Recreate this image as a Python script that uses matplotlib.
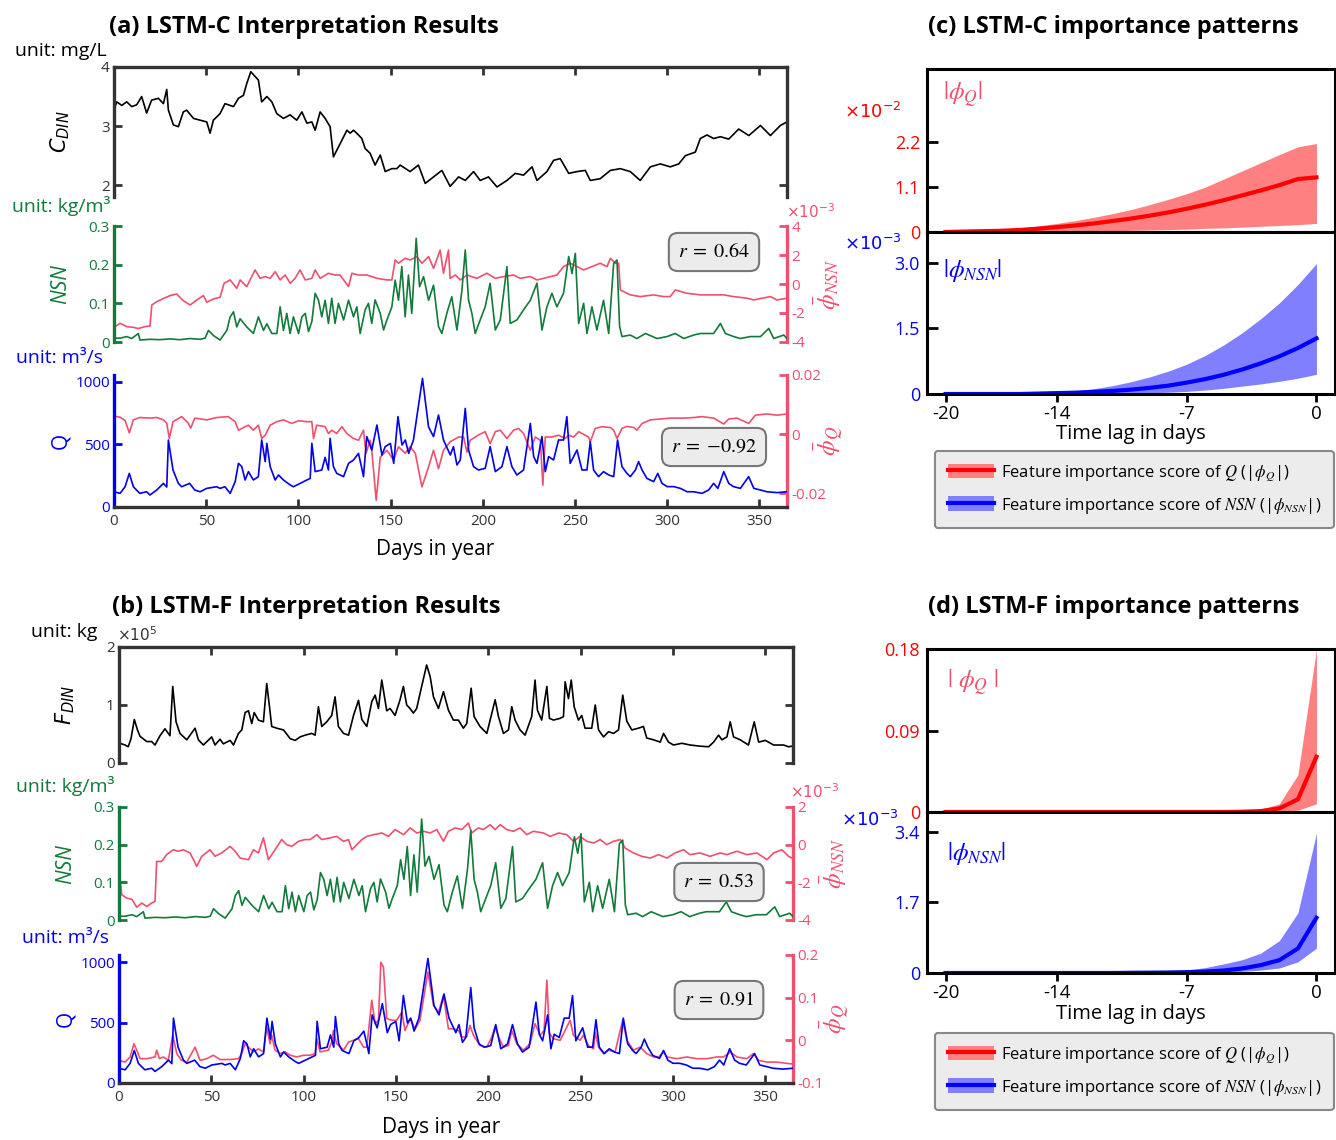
import numpy as np
import matplotlib.pyplot as plt
from matplotlib.patches import Patch
from matplotlib.lines import Line2D

plt.rcParams['font.family'] = ['Open Sans', 'DejaVu Sans']
plt.rcParams['mathtext.fontset'] = 'dejavusans'
plt.rcParams['axes.unicode_minus'] = False

W, H = 1336, 1140
PINK = '#f0506e'
GREEN = '#127a3a'
BLUE = '#0000ee'
DARK = '#333333'

# ---------------- time series (day, value) ----------------
c_din_pts = [(0, 3.27), (1.5, 3.41), (4.2, 3.35), (6.9, 3.41), (9.6, 3.33), (12.3, 3.36), (15, 3.50),
             (17.7, 3.22), (20.4, 3.44), (24.1, 3.47), (26.8, 3.38), (28.6, 3.62), (29.5, 3.27),
             (32.2, 3.02), (34.9, 2.99), (37.6, 3.24), (39.4, 3.27), (43.1, 3.13), (46.7, 3.10),
             (50.3, 3.07), (52.1, 2.88), (53.9, 3.10), (57.5, 3.21), (60.2, 3.38), (64.8, 3.33),
             (67.5, 3.47), (70.2, 3.52), (72, 3.72), (74.2, 3.92), (76.5, 3.84), (78.3, 3.78),
             (80.1, 3.41), (82.9, 3.50), (85.6, 3.41), (88.3, 3.21), (91.9, 3.13), (95.5, 3.19),
             (99.1, 3.10), (101.9, 3.24), (104.6, 3.05), (107.3, 3.07), (109.1, 2.93), (111.8, 3.24),
             (114.5, 3.13), (117.2, 2.99), (119, 2.48), (120.8, 2.59), (123.6, 2.76), (126.3, 2.93),
             (128.1, 2.88), (129.9, 2.93), (132.6, 2.85), (134.4, 2.79), (136.2, 2.62), (138.9, 2.54),
             (141.6, 2.34), (144.4, 2.51), (147.1, 2.23), (150.7, 2.28), (153.4, 2.28), (155.2, 2.34),
             (160.6, 2.23), (165.1, 2.34), (168.8, 2.03), (173.3, 2.14), (177.8, 2.25), (182.3, 1.98),
             (186.9, 2.14), (190.5, 2.08), (195, 2.23), (198.6, 2.08), (203.1, 2.14), (207.7, 1.97),
             (213.1, 2.08), (217.6, 2.20), (222.1, 2.17), (226.7, 2.31), (229.4, 2.08), (234.8, 2.23),
             (238.4, 2.42), (242, 2.45), (246.6, 2.20), (251.1, 2.23), (255.6, 2.25), (258.3, 2.08),
             (263.7, 2.11), (269.2, 2.25), (274.6, 2.28), (280, 2.23), (285.4, 2.08), (290.9, 2.31),
             (296.3, 2.36), (301.7, 2.31), (306.3, 2.36), (309.9, 2.50), (315.3, 2.56), (318, 2.79),
             (321.6, 2.85), (325.2, 2.79), (328.9, 2.82), (333.4, 2.78), (338.8, 2.95), (344.3, 2.84),
             (350.6, 3.01), (356, 2.84), (361.4, 3.01), (365, 3.07)]

f_din_pts = [(0.5, 0.34), (3.3, 0.31), (5, 0.28), (6.5, 0.42), (8.3, 0.75), (10, 0.57), (11.4, 0.46),
             (15, 0.37), (17.7, 0.37), (19.5, 0.31), (22.2, 0.47), (24.9, 0.59), (27.6, 0.47),
             (29.1, 1.32), (30.9, 0.71), (33, 0.51), (36.7, 0.40), (41.2, 0.60), (43, 0.40),
             (45.7, 0.31), (50.2, 0.45), (52, 0.31), (54.7, 0.41), (56.5, 0.33), (60.2, 0.39),
             (62, 0.31), (64.7, 0.51), (66.5, 0.57), (68.3, 0.87), (70.1, 0.90), (71.9, 0.68),
             (73.2, 0.87), (75.5, 0.74), (78.2, 0.71), (80, 1.37), (81.5, 0.97), (82.7, 0.63),
             (85.4, 0.60), (89.1, 0.57), (92.7, 0.42), (95.4, 0.39), (98.1, 0.45), (100.8, 0.48),
             (104.4, 0.51), (106.2, 0.48), (108, 0.97), (109.8, 0.63), (112.5, 0.71), (115.2, 0.82),
             (117, 1.14), (118.8, 0.63), (121.6, 0.51), (124.3, 0.48), (127, 0.82), (129.7, 1.08),
             (131.5, 0.75), (134.2, 0.63), (136.9, 1.06), (138.7, 1.17), (140.5, 0.94), (142.3, 1.43),
             (145, 0.90), (146.8, 0.94), (149.5, 0.82), (152.2, 1.09), (154, 1.32), (155.8, 1.0),
             (157.6, 0.94), (159.4, 0.86), (161.2, 0.94), (163.9, 1.32), (166.6, 1.69), (168.5, 1.49),
             (170.3, 1.14), (173, 0.94), (175.7, 1.23), (178.4, 0.91), (181.1, 0.74), (183.8, 0.74),
             (186.5, 0.60), (188.3, 0.68), (190.7, 1.29), (192.3, 0.80), (195.5, 0.63), (199.2, 0.51),
             (201.9, 0.86), (203.7, 1.09), (205.5, 0.80), (208.2, 0.51), (210.9, 0.57), (212.7, 0.97),
             (214.5, 0.74), (217.2, 0.57), (219.9, 0.48), (223.5, 0.80), (225.3, 1.43), (226.6, 0.91),
             (228.9, 0.74), (231.7, 1.32), (233.1, 0.77), (235.3, 0.74), (238.9, 0.77), (240.7, 0.80),
             (241.6, 1.40), (243.4, 1.11), (244.9, 1.43), (246.5, 0.97), (248.8, 0.74), (250.6, 0.82),
             (252.4, 0.60), (256, 0.60), (257.9, 1.0), (259.7, 0.57), (262.4, 0.45), (265.1, 0.54),
             (267.8, 0.51), (270.5, 0.57), (272.8, 1.17), (275, 0.72), (277.7, 0.57), (281.3, 0.60),
             (284, 0.63), (285.8, 0.43), (289.5, 0.40), (293.1, 0.36), (294.9, 0.51), (297.6, 0.36),
             (300.3, 0.31), (304.8, 0.34), (309.3, 0.31), (314.8, 0.29), (319.3, 0.28), (322, 0.36),
             (324.7, 0.48), (326.5, 0.40), (329.2, 0.45), (331, 0.71), (332.8, 0.45), (336.4, 0.40),
             (340.9, 0.31), (344, 0.71), (346.4, 0.36), (350, 0.39), (354.5, 0.31), (359.9, 0.31),
             (362.6, 0.28), (364.4, 0.29)]

nsn_pts = [(0, 0.010), (3.3, 0.010), (6.9, 0.014), (9.6, 0.009), (13.2, 0.022), (14.1, 0.005),
           (19.5, 0.007), (24.9, 0.006), (30.4, 0.008), (35.8, 0.006), (41.3, 0.009), (46.7, 0.007),
           (49.4, 0.010), (51.2, 0.030), (53.9, 0.017), (57.5, 0.005), (61.2, 0.030), (63, 0.065),
           (64.8, 0.078), (66.6, 0.039), (68.4, 0.060), (72, 0.039), (75.6, 0.022), (78.3, 0.065),
           (81.1, 0.030), (82.9, 0.047), (85.6, 0.022), (88.3, 0.022), (90.1, 0.091), (91.9, 0.030),
           (93.7, 0.074), (95.5, 0.022), (97.3, 0.065), (100.1, 0.022), (101.9, 0.065), (103.7, 0.074),
           (105.5, 0.027), (107.3, 0.053), (109.1, 0.126), (110.9, 0.108), (112.7, 0.065), (114.5, 0.108),
           (116.3, 0.048), (118.1, 0.113), (119.9, 0.048), (121.7, 0.100), (124.5, 0.057), (127.2, 0.108),
           (129.9, 0.065), (131.7, 0.091), (133.5, 0.022), (136.2, 0.083), (138, 0.100), (139.8, 0.048),
           (141.6, 0.109), (144.4, 0.074), (146.2, 0.031), (148, 0.057), (150.7, 0.091), (152.5, 0.160),
           (154.3, 0.108), (156.1, 0.195), (157.9, 0.065), (159.7, 0.173), (161.5, 0.074), (163.9, 0.268),
           (165.7, 0.143), (167.9, 0.169), (170.6, 0.108), (173.3, 0.147), (176, 0.040), (177.8, 0.022),
           (180.5, 0.074), (183.2, 0.117), (186, 0.031), (188.7, 0.134), (190.5, 0.238), (192.3, 0.108),
           (194.1, 0.074), (195.9, 0.022), (198.6, 0.057), (201.3, 0.091), (204, 0.152), (206.8, 0.031),
           (209.5, 0.057), (213.1, 0.195), (214.9, 0.048), (218.5, 0.057), (222.1, 0.083), (225.8, 0.108),
           (229.4, 0.152), (232.1, 0.031), (234.8, 0.091), (237.5, 0.126), (240.2, 0.091), (243.8, 0.126),
           (246.6, 0.221), (248.4, 0.177), (250.2, 0.229), (252, 0.048), (254.7, 0.100), (256.5, 0.022),
           (259.2, 0.091), (261.9, 0.031), (265.5, 0.108), (268.3, 0.022), (271, 0.203), (272.8, 0.212),
           (274.2, 0.040), (275.5, 0.014), (280, 0.018), (283.6, 0.009), (288.2, 0.022), (294.5, 0.009),
           (299.9, 0.014), (304.4, 0.022), (309, 0.009), (314.4, 0.018), (318, 0.022), (322.5, 0.022),
           (325.2, 0.022), (328.9, 0.048), (331.6, 0.022), (336.1, 0.014), (339.7, 0.009), (345.1, 0.014),
           (350.6, 0.014), (355.1, 0.035), (357.8, 0.009), (363.2, 0.018), (365, 0.009)]

q_pts = [(0, 122), (3.3, 109), (6, 162), (8.3, 269), (10.5, 162), (14, 109), (17.7, 122), (19.5, 96),
         (23.2, 136), (26.8, 189), (28.6, 160), (29.5, 536), (32, 296), (34.9, 189), (36.7, 162),
         (41, 189), (43.8, 136), (46.7, 122), (50.3, 149), (55.7, 162), (57.5, 149), (60.2, 162),
         (63, 109), (65.7, 202), (67.5, 349), (69.3, 323), (71.1, 216), (72.9, 283), (75.6, 216),
         (78.3, 243), (80.1, 536), (82, 363), (82.9, 509), (84.7, 323), (87.4, 216), (89.2, 256),
         (91.9, 216), (95.6, 176), (97.3, 162), (100.9, 189), (104.6, 216), (106.4, 229), (107.3, 509),
         (109.1, 283), (112.7, 296), (114.5, 397), (116.3, 296), (117.2, 549), (119, 323), (120.8, 269),
         (124.5, 243), (127.2, 349), (129.9, 376), (132.6, 429), (134.4, 309), (135.3, 243), (137.1, 563),
         (139.8, 456), (142.6, 656), (145.3, 416), (147.1, 483), (149.9, 509), (151.7, 349), (154, 723),
         (156.2, 496), (158, 536), (159.8, 429), (162.4, 536), (167.3, 1029), (170.6, 640), (173.3, 563),
         (176, 736), (178.7, 536), (182.4, 416), (184.1, 483), (186, 336), (187.8, 376), (190.5, 789),
         (192.3, 456), (195, 323), (197.7, 296), (201.3, 309), (204, 483), (206.8, 283), (210.4, 323),
         (213.1, 483), (215.8, 323), (218.5, 256), (222.1, 296), (225.8, 669), (227.6, 403), (229.4, 349),
         (232.1, 563), (233.9, 283), (235.7, 403), (238.4, 376), (241.1, 536), (243.8, 536), (245.6, 723),
         (247.4, 349), (251.1, 456), (253.8, 296), (256.5, 296), (258.3, 523), (260.1, 296), (262.8, 243),
         (265.5, 283), (268.3, 256), (271, 243), (273.1, 536), (275.5, 323), (278.2, 269), (280, 243),
         (282.8, 296), (284.5, 363), (286.4, 296), (289, 229), (292.7, 203), (294.9, 269), (297.2, 189),
         (300, 163), (303.6, 163), (307.2, 149), (310.8, 122), (314.4, 122), (318.9, 109), (322.5, 136),
         (325.2, 189), (327.5, 149), (330.7, 283), (333.4, 189), (336, 163), (339.7, 149), (344.2, 243),
         (347, 149), (350.6, 136), (354.1, 122), (359.6, 115), (365, 122)]

# mean SHAP of NSN (x1e-3) and Q, LSTM-C
phi_nsn_c_pts = [(0, -2.99), (3.3, -2.71), (6.9, -2.94), (10.5, -2.99), (13.2, -3.07), (16.8, -2.94),
                 (19.5, -2.90), (20.5, -1.45), (23.2, -1.22), (26.8, -1.0), (30.4, -0.80), (34, -0.69),
                 (37.6, -1.15), (41.3, -1.45), (44.9, -1.10), (48.5, -0.80), (50.3, -1.26), (53.9, -1.03),
                 (57.5, -0.92), (59.7, 0.05), (63, 0.28), (66.6, -0.30), (68.4, 0.28), (72, -0.18),
                 (76.5, 0.97), (79.2, 0.39), (82, 0.51), (84.7, 0.39), (87.4, 0.85), (90.1, 0.28),
                 (92.8, 0.62), (95.6, 0.05), (98.2, 0.39), (100.9, 0.97), (103.7, 0.28), (107.3, 0.39),
                 (109.1, 0.97), (111.8, 0.39), (116.3, 0.74), (119.9, 0.62), (122.6, 0.62), (127.2, -0.18),
                 (129, 0.74), (132.6, 0.62), (137.1, 0.62), (142.6, 0.39), (148, 0.28), (150.7, 0.28),
                 (152.5, 1.66), (154.3, 1.43), (157.9, 1.77), (160.6, 1.66), (164.3, 1.89), (167, 1.43),
                 (170.6, 1.89), (173.3, 1.08), (176.9, 2.34), (178.7, 0.74), (181.4, 2.34), (182.3, 0.39),
                 (185.1, 0.62), (187.8, 0.28), (191.4, 0.62), (196.8, 0.39), (202.2, 0.74), (206.8, 0.39),
                 (211.3, 0.51), (216.7, 0.62), (220.3, 0.39), (225.8, 0.51), (229.4, 0.28), (233, 0.39),
                 (240.2, 0.62), (243.8, 1.20), (247.5, 1.43), (251.1, 1.20), (254.7, 0.97), (259.2, 1.20),
                 (263.7, 1.43), (267.4, 1.20), (269.2, 1.77), (271.9, 1.43), (273.7, 1.43), (274.6, -0.41),
                 (280, -0.75), (285.4, -0.87), (292.6, -0.75), (298.1, -0.87), (301.7, -0.87),
                 (304.4, -0.41), (310.8, -0.64), (318, -0.75), (325.2, -0.75), (330.7, -0.75),
                 (336.1, -0.87), (343.3, -0.98), (347, -1.10), (351.5, -0.98), (356, -0.87), (359.6, -1.10),
                 (365, -0.98)]

phi_q_c_pts = [(0, 0.0061), (3.3, 0.0057), (6, 0.0046), (8.3, 0.0004), (10.5, 0.0048), (14, 0.0056),
               (19.5, 0.0054), (23.2, 0.0056), (26.8, 0.0048), (28.6, 0.0037), (30, -0.0015), (32, 0.0042),
               (36.7, 0.0059), (40.3, 0.0037), (41.6, 0.0020), (43.8, 0.0054), (50.3, 0.0048),
               (55.7, 0.0056), (62, 0.0059), (65.7, 0.0042), (67.5, 0.0013), (70.2, 0.0022), (72.9, 0.0030),
               (75.6, 0.0013), (78.3, 0.0030), (80.1, -0.0015), (82, -0.0004), (84.7, 0.0030), (88.3, 0.0042),
               (91.9, 0.0048), (96.4, 0.0036), (100.1, 0.0045), (104.6, 0.0042), (107.3, 0.0042),
               (108.2, -0.0015), (109.9, 0.0030), (114.5, 0.0025), (116.3, 0.0002), (118.1, 0.0013),
               (120.8, 0.0002), (123.6, 0.0025), (126.3, 0.0002), (129.9, -0.0015), (132.6, -0.0021),
               (135.3, 0.0013), (136.7, -0.0065), (138.9, -0.0021), (139.8, -0.0055), (142.2, -0.0224),
               (144.4, -0.0078), (148, -0.0055), (151.6, -0.0088), (154.3, -0.0043), (157.9, -0.0065),
               (160.6, -0.0043), (163.4, -0.0065), (167, -0.0179), (170.6, -0.0111), (173.3, -0.0055),
               (176, -0.0117), (178.7, -0.0055), (182.3, -0.0026), (186.9, -0.0010), (189.6, -0.0010),
               (191.4, -0.0061), (193.2, -0.0021), (197.7, -0.0003), (201.3, 0.0008), (204, -0.0033),
               (206.8, 0.0008), (209.5, 0.0013), (213.1, -0.0015), (216.7, 0.0013), (219.4, 0.0019),
               (222.1, 0.0002), (225.8, -0.0055), (228.5, -0.0010), (231.2, -0.0021), (232.6, -0.0173),
               (233.9, -0.0010), (237.5, -0.0010), (241.1, -0.0004), (244.7, -0.0015), (246.6, -0.0004),
               (249.3, -0.0010), (252, 0.0008), (257.4, -0.0010), (258.3, -0.0026), (261, 0.0019),
               (264.6, 0.0025), (269.2, 0.0022), (271, 0.0013), (272.8, -0.0015), (275.5, 0.0019),
               (278.2, 0.0026), (281.9, 0.0022), (283.6, 0.0013), (286.4, 0.0036), (290.9, 0.0048),
               (296.3, 0.0051), (301.7, 0.0054), (309, 0.0054), (314.4, 0.0056), (318.9, 0.0059),
               (325.2, 0.0054), (330.7, 0.0034), (333.4, 0.0051), (337.9, 0.0054), (344.2, 0.0036),
               (347.9, 0.0064), (354.1, 0.0068), (359.6, 0.0064), (365, 0.0068)]

# mean SHAP of NSN (x1e-3) and Q, LSTM-F
phi_nsn_f_pts = [(0.2, -1.51), (1.5, -2.66), (4.2, -2.84), (7, -2.90), (9.6, -3.32), (12.3, -3.10),
                 (15, -3.28), (17.7, -3.10), (19.5, -3.01), (20.4, -0.89), (23.1, -0.89), (25.8, -0.53),
                 (29.4, -0.27), (32.1, -0.35), (34.9, -0.27), (38.5, -0.44), (42.1, -1.15), (44.8, -0.62),
                 (49.3, -0.27), (52, -0.62), (55.6, -0.44), (60.2, -0.09), (62.9, -0.35), (65.6, -0.71),
                 (70.1, -0.80), (72.8, -0.27), (75.5, -0.44), (78.2, 0.36), (80.9, -0.80), (84.5, -0.27),
                 (88.1, 0.27), (90.8, 0.0), (93.6, -0.09), (97.2, 0.18), (100.8, 0.27), (103.5, 0.27),
                 (107.1, 0.53), (109.8, 0.27), (114.3, 0.36), (117.9, 0.44), (121.6, 0.18), (124.3, 0.27),
                 (126.1, -0.27), (127.9, -0.09), (131.5, 0.27), (134.2, 0.44), (137.8, 0.53), (142.3, 0.62),
                 (145.9, 0.44), (149.5, 0.80), (154.1, 0.53), (157.7, 0.89), (161.3, 0.62), (164.9, 0.71),
                 (168.5, 0.62), (172.1, 0.80), (175.7, 0.18), (178.4, 0.71), (182, 0.89), (185.6, 0.80),
                 (189.2, 1.15), (191, 0.62), (194.6, 0.89), (197.3, 0.80), (201, 1.06), (203.7, 0.80),
                 (206.4, 1.06), (210, 0.80), (213.6, 0.71), (217.2, 0.89), (220.8, 0.53), (224.4, 0.71),
                 (229.9, 0.62), (233.5, 0.44), (238, 0.62), (242.5, 0.53), (246.1, 0.18), (249.7, 0.44),
                 (253.3, 0.18), (257, 0.09), (260.6, 0.27), (264.2, 0.0), (267.8, 0.18), (271.4, 0.27),
                 (274.1, -0.18), (278.6, -0.44), (283.1, -0.62), (287.7, -0.71), (292.2, -0.53),
                 (296.7, -0.71), (301.2, -0.44), (305.7, -0.27), (309.2, -0.53), (314.7, -0.44),
                 (320.1, -0.62), (325.6, -0.44), (329.2, -0.53), (334.6, -0.35), (340, -0.53), (345.5, -0.44),
                 (350.9, -0.80), (354.5, -0.44), (359, -0.27), (362.6, -0.62), (364.4, -0.71)]

phi_q_f_pts = [(0.2, -0.047), (3.3, -0.051), (6, -0.039), (8.1, -0.008), (10, -0.027), (11.4, -0.043),
               (15, -0.043), (19.5, -0.039), (20.4, -0.023), (21.9, -0.043), (24, -0.039), (26.7, -0.047),
               (29.1, 0.012), (31.3, -0.031), (33.9, -0.047), (36.7, -0.051), (41.2, -0.016), (43.9, -0.047),
               (47.5, -0.043), (51.1, -0.035), (54.7, -0.045), (60.2, -0.045), (64.7, -0.043), (66.5, -0.031),
               (68.3, -0.008), (70.1, -0.016), (72.8, -0.027), (75.5, -0.020), (78.2, -0.027), (80, 0.031),
               (81.8, -0.008), (82.7, 0.012), (84.5, -0.023), (87.2, -0.031), (89.9, -0.027), (92.7, -0.035),
               (96.3, -0.039), (99.9, -0.035), (103.5, -0.035), (106.2, -0.031), (107.1, 0.004),
               (108.9, -0.027), (113.4, -0.023), (115.2, -0.004), (116.1, 0.023), (117.9, -0.008),
               (121.6, -0.023), (124.3, -0.004), (127, 0.0), (129.7, 0.004), (132.4, -0.016), (134.2, -0.016),
               (136.9, 0.094), (138.7, 0.039), (140.5, 0.047), (141.8, 0.183), (143.2, 0.172), (145, 0.051),
               (147.7, 0.047), (150.4, 0.047), (153.2, 0.066), (154.9, 0.023), (157.7, 0.051), (160.4, 0.027),
               (163, 0.047), (167.3, 0.160), (170.3, 0.082), (173, 0.066), (175.7, 0.105), (178.4, 0.027),
               (181.1, 0.027), (183.8, 0.023), (185.6, 0.008), (188.3, 0.008), (190.1, 0.035), (191.9, 0.012),
               (195.5, -0.012), (199.2, -0.016), (201.9, 0.008), (203.7, 0.031), (205.5, 0.008),
               (208.2, -0.016), (210.9, -0.012), (212.7, 0.023), (215.4, -0.008), (219, -0.023),
               (222.6, -0.008), (225.3, 0.039), (228.1, 0.012), (230.2, 0.023), (231.7, 0.141), (233.1, 0.016),
               (235.3, 0.004), (238.9, 0.0), (241.6, 0.023), (244.3, 0.047), (246.1, 0.012), (249.7, 0.0),
               (251.5, 0.012), (254.2, -0.012), (257, -0.020), (257.9, 0.019), (259.7, -0.016),
               (262.4, -0.031), (265.1, -0.023), (268.7, -0.027), (271.4, 0.023), (272.8, 0.047), (275, 0.0),
               (278.6, -0.023), (282.2, -0.016), (285.8, -0.031), (289.5, -0.039), (292.2, -0.039),
               (294.9, -0.027), (296.7, -0.039), (302.1, -0.043), (307.5, -0.039), (312.9, -0.043),
               (318.4, -0.043), (323.8, -0.039), (327.4, -0.039), (331, -0.027), (334.6, -0.039),
               (340, -0.043), (343.6, -0.031), (346.4, -0.047), (350.9, -0.051), (356.3, -0.051),
               (363.5, -0.055), (365, -0.055)]

# ---------------- importance patterns over time lag ----------------
lags = np.arange(-20, 1)
c_q_mean = [0.00, 0.01, 0.02, 0.03, 0.05, 0.08, 0.12, 0.16, 0.21, 0.27, 0.33, 0.40, 0.48, 0.57, 0.67,
            0.78, 0.90, 1.02, 1.15, 1.30, 1.34]  # x1e-2
c_q_hi = [0.01, 0.02, 0.04, 0.07, 0.10, 0.15, 0.21, 0.28, 0.36, 0.45, 0.55, 0.67, 0.80, 0.94, 1.10,
          1.30, 1.50, 1.70, 1.90, 2.09, 2.17]
c_q_lo = [0, 0, 0, 0, 0, 0.01, 0.01, 0.02, 0.02, 0.03, 0.04, 0.05, 0.06, 0.07, 0.09, 0.10, 0.12, 0.14,
          0.16, 0.18, 0.21]
c_n_mean = [0, 0, 0, 0, 0, 0.01, 0.02, 0.03, 0.05, 0.07, 0.10, 0.14, 0.19, 0.26, 0.34, 0.44, 0.56, 0.70,
            0.86, 1.05, 1.27]  # x1e-3
c_n_hi = [0, 0, 0.01, 0.01, 0.01, 0.02, 0.04, 0.07, 0.12, 0.19, 0.28, 0.39, 0.52, 0.68, 0.88, 1.12, 1.40,
          1.72, 2.08, 2.50, 2.98]
c_n_lo = [0, 0, 0, 0, 0, 0, 0, 0.01, 0.01, 0.02, 0.02, 0.03, 0.04, 0.06, 0.09, 0.13, 0.18, 0.23, 0.29,
          0.36, 0.45]

d_q_mean = [0] * 16 + [0.0003, 0.001, 0.004, 0.014, 0.061]
d_q_hi = [0] * 15 + [0.0005, 0.001, 0.003, 0.009, 0.041, 0.18]
d_q_lo = [0] * 18 + [0.001, 0.002, 0.009]
d_n_mean = [0] * 10 + [0.005, 0.008, 0.012, 0.02, 0.035, 0.06, 0.11, 0.19, 0.31, 0.59, 1.33]  # x1e-3
d_n_hi = [0.005] * 10 + [0.015, 0.02, 0.035, 0.07, 0.13, 0.22, 0.32, 0.48, 0.78, 1.45, 3.37]
d_n_lo = [0] * 13 + [0.005, 0.01, 0.02, 0.04, 0.07, 0.12, 0.27, 0.60]

day_ticks = np.arange(0, 351, 50)
lag_ticks = [-20, -14, -7, 0]

fig = plt.figure(figsize=(W / 100, H / 100), dpi=100)


def px_rect(x0, y0, x1, y1):
    return [x0 / W, 1 - y1 / H, (x1 - x0) / W, (y1 - y0) / H]


def ftext(x, y, s, **kw):
    kw.setdefault('ha', 'center')
    kw.setdefault('va', 'center')
    return fig.text(x / W, 1 - y / H, s, **kw)


def series(pts):
    arr = np.array(pts, dtype=float)
    return arr[:, 0], arr[:, 1]


def color_spine(ax, side, color):
    ax.spines[side].set_color(color)
    ax.spines[side].set_linewidth(2.4)


def load_row(rect, pts, ylim, yticks, ylabel, right_ticks):
    ax = fig.add_axes(rect)
    d, v = series(pts)
    ax.plot(d, v, color='k', lw=1.2)
    ax.set_xlim(0, 365)
    ax.set_ylim(ylim)
    ax.set_yticks(yticks)
    ax.set_xticks(day_ticks)
    ax.tick_params(axis='x', top=True, bottom=False, labelbottom=False, direction='in',
                   length=6, width=2, color=DARK)
    ax.tick_params(axis='y', direction='in', length=6, width=2, color=DARK, labelcolor=DARK,
                   labelsize=11, pad=3)
    ax.spines['bottom'].set_visible(False)
    for s in ('left', 'top', 'right'):
        color_spine(ax, s, DARK)
    tw = ax.twinx()
    tw.set_ylim(ylim)
    tw.set_yticks(right_ticks)
    tw.tick_params(direction='in', length=6, width=2, color=DARK, labelright=False)
    for s in tw.spines.values():
        s.set_visible(False)
    ax.set_ylabel(ylabel, fontsize=15)
    ax.yaxis.set_label_coords(-0.063, 0.5)
    return ax


def driver_row(rect, pts, color, ylim, yticks, yticklabels, ylabel,
               phi_pts, phi_ylim, phi_ticks, phi_ticklabels, phi_ylabel, bottom=False):
    ax = fig.add_axes(rect)
    tw = ax.twinx()
    pd_, pv = series(phi_pts)
    tw.plot(pd_, pv, color=PINK, lw=1.2)
    d, v = series(pts)
    ax.plot(d, v, color=color, lw=1.2)
    ax.set_zorder(tw.get_zorder() + 1)
    ax.patch.set_visible(False)
    ax.set_xlim(0, 365)
    ax.set_ylim(ylim)
    ax.set_yticks(yticks)
    ax.set_yticklabels(yticklabels)
    tw.set_ylim(phi_ylim)
    tw.set_yticks(phi_ticks)
    tw.set_yticklabels(phi_ticklabels)
    ax.tick_params(axis='y', direction='in', length=6, width=2, color=color, labelcolor=color,
                   labelsize=11, pad=3)
    tw.tick_params(axis='y', direction='in', length=6, width=2, color=PINK, labelcolor=PINK,
                   labelsize=11, pad=3)
    for s in ('top', 'right'):
        ax.spines[s].set_visible(False)
    for s in ('top', 'left', 'bottom'):
        tw.spines[s].set_visible(False)
    color_spine(ax, 'left', color)
    color_spine(tw, 'right', PINK)
    if bottom:
        color_spine(ax, 'bottom', DARK)
        ax.set_xticks(day_ticks)
        ax.set_xticklabels([str(t) for t in day_ticks])
        ax.tick_params(axis='x', direction='in', length=6, width=2, color=DARK, labelcolor=DARK,
                       labelsize=11, pad=5)
    else:
        ax.spines['bottom'].set_visible(False)
        ax.tick_params(axis='x', bottom=False, labelbottom=False)
    ax.set_ylabel(ylabel, fontsize=15, color=color, style='italic' if ylabel == 'NSN' else 'normal')
    ax.yaxis.set_label_coords(-0.064, 0.5)
    tw.set_ylabel(phi_ylabel, fontsize=18, color=PINK, math_fontfamily='stix')
    tw.yaxis.set_label_coords(1.038, 0.5)
    return ax


def r_box(x, y, s):
    ftext(x, y, s, fontsize=14.5, math_fontfamily='stix',
          bbox=dict(boxstyle='round,pad=0.45,rounding_size=0.45', fc='#ececec', ec='#777777', lw=1.5))


def lag_axes(rect, mean, lo, hi, line_c, fill_c, ylim, ticks, labels, tick_c, bottom):
    ax = fig.add_axes(rect)
    ax.fill_between(lags, lo, hi, color=fill_c, lw=0)
    ax.plot(lags, mean, color=line_c, lw=3)
    ax.set_xlim(-21, 1)
    ax.set_ylim(ylim)
    ax.set_yticks(ticks)
    ax.set_yticklabels(labels)
    ax.tick_params(axis='y', direction='in', length=8, width=2, color='k', labelcolor=tick_c,
                   labelsize=13, pad=5)
    for s in ax.spines.values():
        s.set_linewidth(2.2)
    ax.set_xticks(lag_ticks)
    if bottom:
        ax.tick_params(axis='x', direction='out', length=6, width=2, labelsize=13.5, pad=2)
        ax.set_xlabel('Time lag in days', fontsize=14.5, labelpad=1)
    else:
        ax.tick_params(axis='x', bottom=False, labelbottom=False)
    return ax


def lag_legend(y_top, labels):
    hq = (Patch(color='#ff8080', lw=0), Line2D([], [], color='red', lw=3))
    hn = (Patch(color='#8080ff', lw=0), Line2D([], [], color='blue', lw=3))
    leg = fig.legend([hq, hn], labels, loc='upper left', bbox_to_anchor=(935 / W, 1 - y_top / H),
                     fontsize=12, frameon=True, fancybox=True, facecolor='#ececec',
                     edgecolor='#888888', framealpha=1, handlelength=2.8, handleheight=1.0,
                     handletextpad=0.4, borderpad=0.75, labelspacing=0.75, borderaxespad=0)
    leg.get_frame().set_linewidth(1.5)
    for t in leg.get_texts():
        t.set_math_fontfamily('stix')


# ======================= (a) LSTM-C =======================
ftext(304, 27, '(a) LSTM-C Interpretation Results', fontsize=17, weight='bold')
load_row(px_rect(114, 67, 787, 197), c_din_pts, (1.8, 4.0), [2, 3, 4], r'$C_{DIN}$', [2])
ftext(61, 51, 'unit: mg/L', fontsize=14)

driver_row(px_rect(114, 226, 787, 342), nsn_pts, GREEN, (0, 0.3), [0, 0.1, 0.2, 0.3],
           ['0', '0.1', '0.2', '0.3'], 'NSN', phi_nsn_c_pts, (-4, 4), [-4, -2, 0, 2, 4],
           ['-4', '-2', '0', '2', '4'], r'$\bar{\phi}_{NSN}$')
ftext(61, 206, 'unit: kg/m³', fontsize=14, color=GREEN)
ftext(811, 213, r'$\times10^{-3}$', fontsize=11, color=PINK)
r_box(714, 252, r'$r\;=\;0.64$')

driver_row(px_rect(114, 375, 787, 507), q_pts, BLUE, (0, 1056), [0, 500, 1000],
           ['0', '500', '1000'], 'Q', phi_q_c_pts, (-0.0247, 0.02), [-0.02, 0, 0.02],
           ['-0.02', '0', '0.02'], r'$\bar{\phi}_{Q}$', bottom=True)
ftext(60, 358, 'unit: m³/s', fontsize=14, color=BLUE)
r_box(714, 447, r'$r\;=\;{-}0.92$')
ftext(435, 549, 'Days in year', fontsize=15)

# ======================= (b) LSTM-F =======================
ftext(306, 607, '(b) LSTM-F Interpretation Results', fontsize=17, weight='bold')
load_row(px_rect(119, 647, 793, 763), f_din_pts, (0, 2), [0, 1, 2], r'$F_{DIN}$', [0, 1])
ftext(64, 632, 'unit: kg', fontsize=14)
ftext(137, 636, r'$\times10^{5}$', fontsize=11, color=DARK)

driver_row(px_rect(119, 807, 793, 920), nsn_pts, GREEN, (0, 0.3), [0, 0.1, 0.2, 0.3],
           ['0', '0.1', '0.2', '0.3'], 'NSN', phi_nsn_f_pts, (-4, 2), [-4, -2, 0, 2],
           ['-4', '-2', '0', '2'], r'$\bar{\phi}_{NSN}$')
ftext(65, 786, 'unit: kg/m³', fontsize=14, color=GREEN)
ftext(815, 793, r'$\times10^{-3}$', fontsize=11, color=PINK)
r_box(719, 882, r'$r\;=\;0.53$')

driver_row(px_rect(119, 955, 793, 1083), q_pts, BLUE, (0, 1058), [0, 500, 1000],
           ['0', '500', '1000'], 'Q', phi_q_f_pts, (-0.1, 0.2), [-0.1, 0, 0.1, 0.2],
           ['-0.1', '0', '0.1', '0.2'], r'$\bar{\phi}_{Q}$', bottom=True)
ftext(65, 938, 'unit: m³/s', fontsize=14, color=BLUE)
r_box(719, 1000, r'$r\;=\;0.91$')
ftext(441, 1128, 'Days in year', fontsize=15)

# ======================= (c) LSTM-C patterns =======================
ftext(1113, 27, '(c) LSTM-C importance patterns', fontsize=17, weight='bold')
ax = lag_axes(px_rect(927, 69, 1335, 232), c_q_mean, c_q_lo, c_q_hi, 'red', '#ff8080', (0, 4.0),
              [0, 1.1, 2.2], ['0', '1.1', '2.2'], 'red', False)
ax.text(0.04, 0.84, r'$|\phi_Q|$', transform=ax.transAxes, fontsize=18, color=PINK,
        math_fontfamily='stix', va='center')
ax = lag_axes(px_rect(927, 232, 1335, 394), c_n_mean, c_n_lo, c_n_hi, 'blue', '#8080ff', (0, 3.7),
              [0, 1.5, 3.0], ['0', '1.5', '3.0'], 'blue', True)
ax.text(0.04, 0.76, r'$|\phi_{NSN}|$', transform=ax.transAxes, fontsize=18, color='blue',
        math_fontfamily='stix', va='center')
ftext(873, 112, r'$\times10^{-2}$', fontsize=13, color='red')
ftext(873, 244, r'$\times10^{-3}$', fontsize=13, color='blue')
lag_legend(451, [r'Feature importance score of $Q$ (|$\phi_Q$|)',
                 r'Feature importance score of $NSN$ (|$\phi_{NSN}$|)'])

# ======================= (d) LSTM-F patterns =======================
ftext(1114, 607, '(d) LSTM-F importance patterns', fontsize=17, weight='bold')
ax = lag_axes(px_rect(927, 649, 1335, 812), d_q_mean, d_q_lo, d_q_hi, 'red', '#ff8080', (0, 0.18),
              [0, 0.09, 0.18], ['0', '0.09', '0.18'], 'red', False)
ax.text(0.05, 0.79, r'$|\ \phi_Q\ |$', transform=ax.transAxes, fontsize=18, color=PINK,
        math_fontfamily='stix', va='center')
ax = lag_axes(px_rect(927, 812, 1335, 973), d_n_mean, d_n_lo, d_n_hi, 'blue', '#8080ff', (0, 3.88),
              [0, 1.7, 3.4], ['0', '1.7', '3.4'], 'blue', True)
ax.text(0.05, 0.74, r'$|\phi_{NSN}|$', transform=ax.transAxes, fontsize=18, color='blue',
        math_fontfamily='stix', va='center')
ftext(870, 820, r'$\times10^{-3}$', fontsize=13, color='blue')
lag_legend(1033, [r'Feature importance score of $Q$ (|$\phi_Q$|)',
                  r'Feature importance score of $NSN$ (|$\phi_{NSN}$|)'])

fig.savefig('out.png', dpi=100)
